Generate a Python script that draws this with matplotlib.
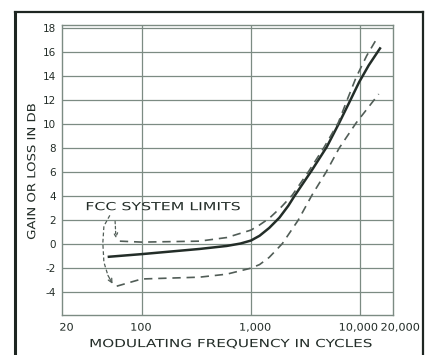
import matplotlib
matplotlib.use("Agg")
import matplotlib.pyplot as plt
from matplotlib.lines import Line2D
import matplotlib.transforms as mtransforms
from matplotlib.patheffects import AbstractPathEffect

# ---- data ----
solid_f  = [50, 100, 338, 600, 800, 1000, 1200, 1470, 1820, 2200, 2500, 3580, 4950, 6430, 7950, 9800, 12000, 15200]
solid_db = [-1.05, -0.83, -0.40, -0.15, 0.05, 0.30, 0.70, 1.35, 2.20, 3.20, 4.00, 6.10, 8.10, 10.10, 11.80, 13.50, 14.90, 16.30]

upper_f  = [63, 100, 338, 600, 1000, 1200, 1470, 1900, 2400, 3400, 4700, 6300, 7600, 9200, 11500, 14500]
upper_db = [0.25, 0.17, 0.25, 0.55, 1.17, 1.60, 2.15, 3.10, 4.10, 6.10, 8.10, 10.10, 12.00, 13.90, 15.70, 17.25]

lower_f  = [59, 100, 338, 600, 1000, 1200, 1470, 1700, 1940, 2710, 3630, 4880, 6430, 9200, 14800]
lower_db = [-3.50, -2.90, -2.75, -2.50, -2.00, -1.70, -1.10, -0.50, 0.05, 2.00, 4.10, 6.00, 8.00, 10.10, 12.50]

xticks = [20, 100, 1000, 10000, 20000]
xtick_labels = ["20", "100", "1,000", "10,000", "20,000"]
yticks = [-4, -2, 0, 2, 4, 6, 8, 10, 12, 14, 16, 18]
ytick_labels = ["-4", "-2", "0", "2", "4", "6", "8", "10", "12", "14", "16", "18"]

# bracket for the "FCC SYSTEM LIMITS" note (freq, dB)
bracket_f  = [51, 45, 44, 45, 49]
bracket_db = [2.4, 1.5, 0.1, -1.5, -2.6]


class HStretch(AbstractPathEffect):
    """Widen text along its baseline (imitates the wide lettering of the original)."""
    def __init__(self, sx):
        super().__init__()
        self.sx = sx

    def draw_path(self, renderer, gc, tpath, affine, rgbFace=None):
        ext = tpath.get_extents()
        cx = (ext.x0 + ext.x1) / 2
        t = mtransforms.Affine2D().translate(-cx, 0).scale(self.sx, 1).translate(cx, 0) + affine
        renderer.draw_path(gc, tpath, t, rgbFace)


ink = "#232d28"
grid_c = "#7c8b83"
dash_c = "#515d57"

fig = plt.figure(figsize=(4.29, 3.55), dpi=100)
ax = fig.add_axes([62/429, 40/355, (393-62)/429, (315-25)/355])
ax.set_xscale("log")
ax.set_xlim(18.6, 20000)
ax.set_ylim(-5.9, 18.25)

ax.set_xticks(xticks)
ax.set_xticklabels(xtick_labels)
ax.set_yticks(yticks)
ax.set_yticklabels(ytick_labels)
ax.minorticks_off()
ax.tick_params(axis="both", length=0, labelsize=7.5, colors=ink)
ax.tick_params(axis="x", pad=5.5)
ax.tick_params(axis="y", pad=4.5)

for y in yticks:
    ax.axhline(y, color=grid_c, lw=0.9, zorder=1)
for x in [100, 1000, 10000]:
    ax.axvline(x, color=grid_c, lw=0.9, zorder=1)
for s in ax.spines.values():
    s.set_color(grid_c)
    s.set_linewidth(1.0)

lbls = ax.get_xticklabels()
shifts = [1, -1, 4, -2, 7]
for lb, dx in zip(lbls, shifts):
    lb.set_transform(lb.get_transform() + mtransforms.ScaledTranslation(dx/100, 0, fig.dpi_scale_trans))
    lb.set_path_effects([HStretch(1.08)])

ax.plot(solid_f, solid_db, color=ink, lw=1.8, zorder=3)
ax.plot(upper_f, upper_db, color=dash_c, lw=1.2, ls=(0, (5, 3.5)), zorder=3)
ax.plot(lower_f, lower_db, color=dash_c, lw=1.2, ls=(0, (5, 3.5)), zorder=3)

xl = ax.set_xlabel("MODULATING FREQUENCY IN CYCLES", fontsize=8, color=ink)
ax.xaxis.set_label_coords(0.51, -0.083)
xl.set_path_effects([HStretch(1.37)])
yl = ax.set_ylabel("GAIN OR LOSS IN DB", fontsize=8, color=ink)
ax.yaxis.set_label_coords(-0.075, 0.495)
yl.set_path_effects([HStretch(1.19)])

# annotation
t = ax.text(157, 3.08, "FCC SYSTEM LIMITS", fontsize=8, color=ink, va="center", ha="center", zorder=4)
t.set_path_effects([HStretch(1.42)])
ax.plot(bracket_f, bracket_db, color=dash_c, lw=0.9, ls=(0, (3, 2)), zorder=4)
ax.annotate("", xy=(54, -3.3), xytext=(49, -2.6),
            arrowprops=dict(arrowstyle="->", color=dash_c, lw=0.9, shrinkA=0, shrinkB=0,
                            mutation_scale=7))
ax.annotate("", xy=(58, 0.5), xytext=(57, 1.9),
            arrowprops=dict(arrowstyle="->", color=dash_c, lw=0.9, ls=(0, (2, 2)),
                            shrinkA=0, shrinkB=0, mutation_scale=7))

# outer page frame
fig.add_artist(Line2D([15/429, 15/429], [0, 1 - 12/355], transform=fig.transFigure, color="#1e2622", lw=2.2))
fig.add_artist(Line2D([15/429, 423/429], [1 - 12/355, 1 - 12/355], transform=fig.transFigure, color="#1e2622", lw=1.6))
fig.add_artist(Line2D([423/429, 423/429], [0, 1 - 12/355], transform=fig.transFigure, color="#1e2622", lw=1.6))

fig.savefig("out.png", dpi=100, facecolor="white")
